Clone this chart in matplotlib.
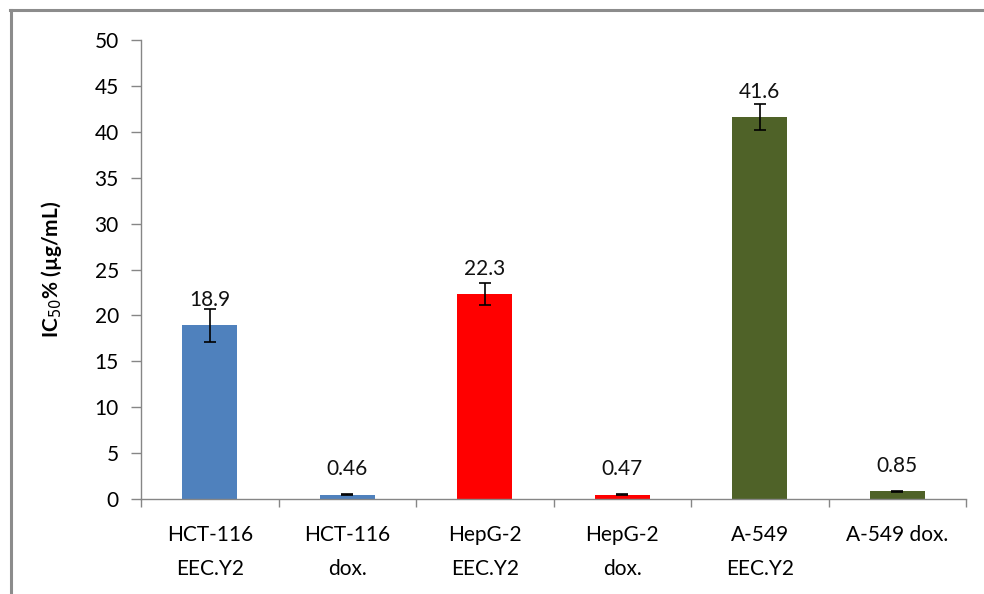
import matplotlib
matplotlib.use("Agg")
import matplotlib.pyplot as plt
from matplotlib.lines import Line2D
import numpy as np

categories = ["HCT-116\nEEC.Y2", "HCT-116\ndox.", "HepG-2\nEEC.Y2", "HepG-2\ndox.", "A-549\nEEC.Y2", "A-549 dox."]
values = [18.9, 0.46, 22.3, 0.47, 41.6, 0.85]
errors = [1.8, 0.05, 1.2, 0.04, 1.45, 0.05]
labels = ["18.9", "0.46", "22.3", "0.47", "41.6", "0.85"]
colors = ["#4F81BD", "#4F81BD", "#FF0000", "#FF0000", "#4F6228", "#4F6228"]
yticks = [0, 5, 10, 15, 20, 25, 30, 35, 40, 45, 50]

plt.rcParams['font.family'] = ['Lato', 'DejaVu Sans']
FS = 15

fig = plt.figure(figsize=(9.84, 5.94), dpi=100)
ax = fig.add_axes([141/984, 1-499/594, (966-141)/984, (499-40)/594])

x = np.arange(len(categories))
ax.bar(x, values, width=0.4, color=colors, zorder=2)
ax.errorbar(x, values, yerr=errors, fmt='none', ecolor='black', elinewidth=1.2,
            capsize=4.5, capthick=1.2, zorder=3)
for xi, v, lab in zip(x, values, labels):
    ax.annotate(lab, (xi, v), xytext=(0, 11), textcoords='offset points',
                ha='center', va='bottom', fontsize=FS, color='#111111')

ax.set_xlim(-0.5, len(categories) - 0.5)
ax.set_ylim(0, 50)
ax.set_yticks(yticks)
ax.set_yticklabels([str(t) for t in yticks], fontsize=FS)
ax.tick_params(axis='y', direction='out', length=7, width=1, color='#868686', pad=9)

ax.set_xticks(x)
ax.set_xticklabels(categories, fontsize=FS, linespacing=1.85)
ax.tick_params(axis='x', length=0, pad=19)
ax.set_xticks(np.arange(-0.5, len(categories)), minor=True)
ax.tick_params(axis='x', which='minor', direction='out', length=6, width=1, color='#868686')

for s in ['top', 'right']:
    ax.spines[s].set_visible(False)
for s in ['left', 'bottom']:
    ax.spines[s].set_color('#868686')
    ax.spines[s].set_linewidth(1)

ax.set_ylabel("IC$_{50}$% (µg/mL)", fontsize=FS, fontweight='bold', labelpad=22)

# outer frame
fig.add_artist(Line2D([10/984, 1], [1-10/594, 1-10/594], transform=fig.transFigure,
                      color='#8c8c8c', linewidth=2.2))
fig.add_artist(Line2D([11/984, 11/984], [0, 1-10/594], transform=fig.transFigure,
                      color='#8c8c8c', linewidth=2.2))

fig.savefig("out.png", dpi=100)
